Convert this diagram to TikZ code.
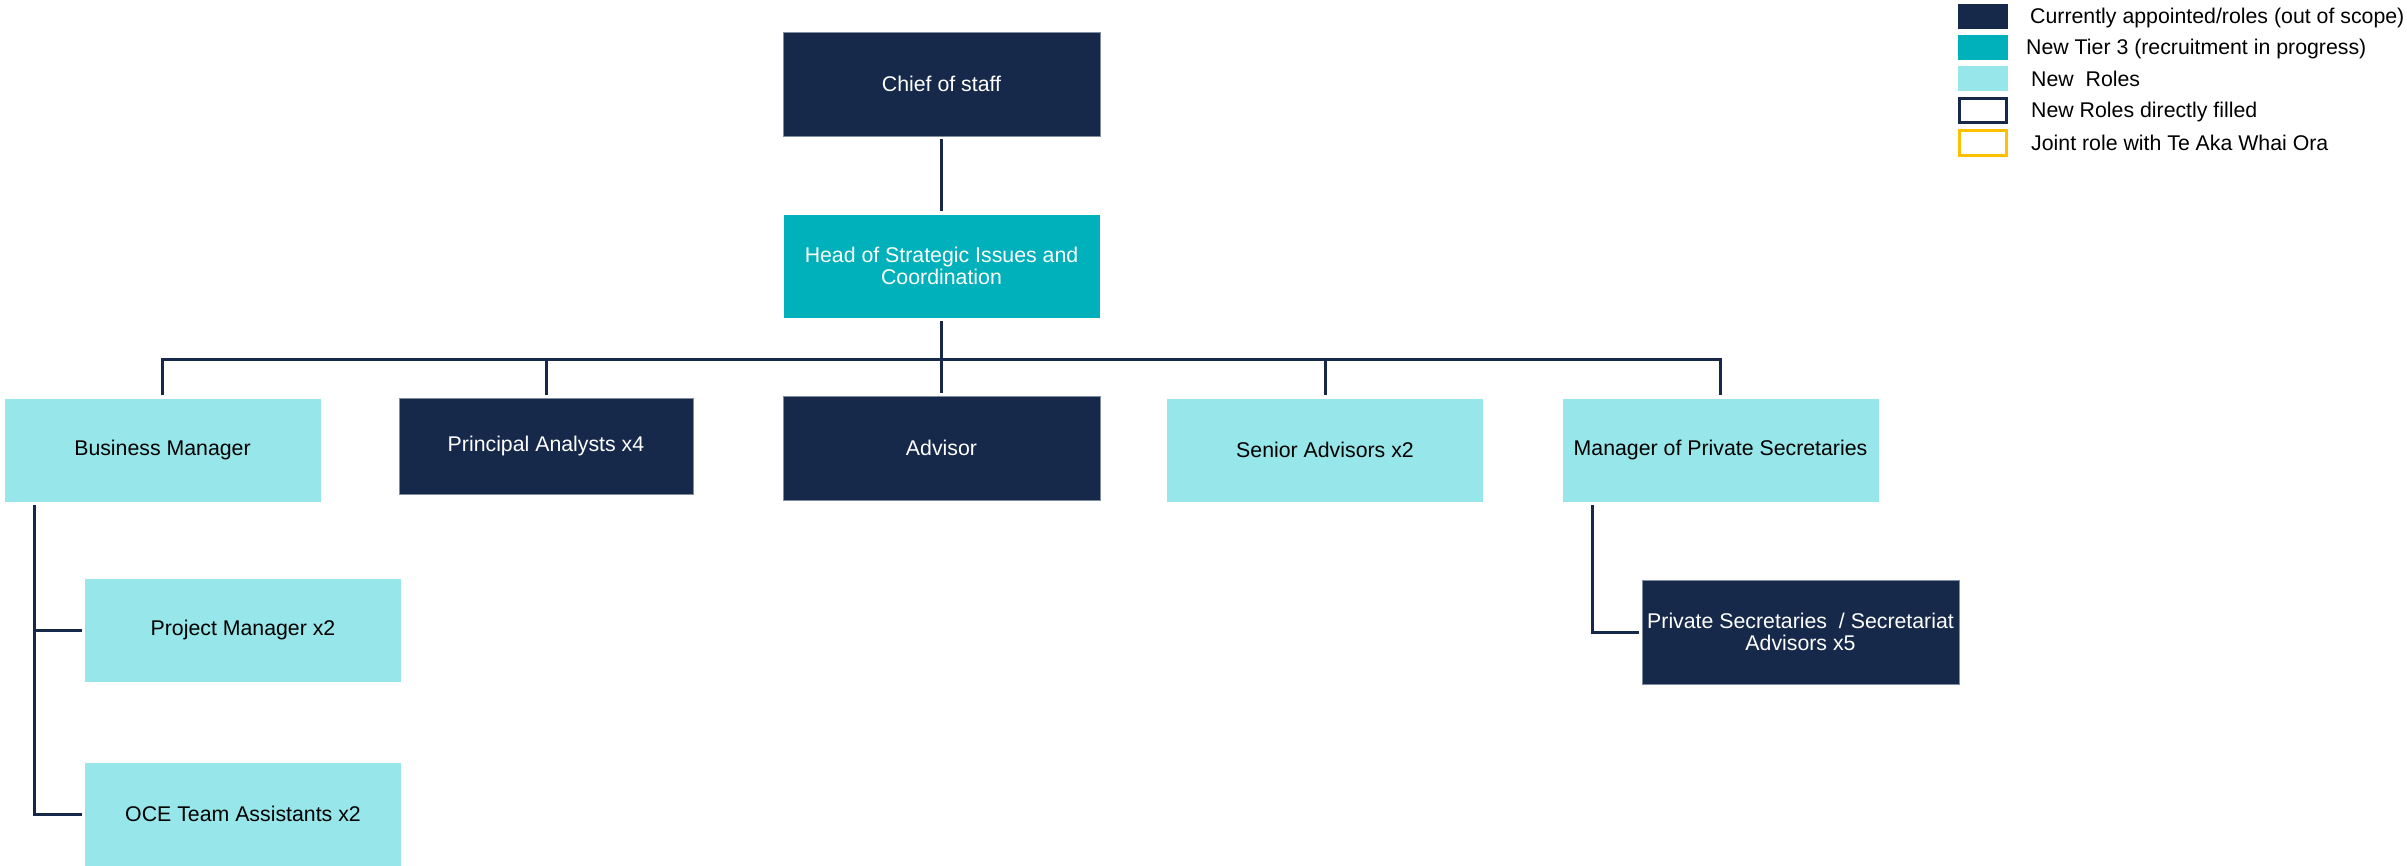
\documentclass[tikz,border=0pt]{standalone}
\usepackage{fontspec}
\setmainfont{Liberation Sans}
\definecolor{navy}{HTML}{16294A}
\definecolor{navyedge}{HTML}{7F8DA3}
\definecolor{tealc}{HTML}{00B0BA}
\definecolor{lightc}{HTML}{97E6E9}
\definecolor{yellowc}{HTML}{FFC000}
\tikzset{
  box/.style={rectangle, inner sep=2pt, outer sep=0pt, align=center,
    minimum width=317pt, minimum height=104pt,
    font=\fontsize{21.3}{22.5}\selectfont},
  darkbox/.style={box, fill=navy, draw=navyedge, line width=0.8pt, text=white},
  tealbox/.style={box, fill=tealc, draw=white, line width=0.8pt, text=white},
  lightbox/.style={box, fill=lightc, draw=white, line width=0.8pt, text=black},
  link/.style={draw=navy, line width=3pt, line join=miter},
  legsq/.style={rectangle, inner sep=0pt, outer sep=0pt, minimum width=50pt, minimum height=25pt},
  legtxt/.style={anchor=base west, inner sep=0pt, font=\fontsize{21.3}{22.5}\selectfont, text=black}
}
\begin{document}
\begin{tikzpicture}[x=1pt,y=-1pt]
\useasboundingbox[fill=white] (0,0) rectangle (2407,865);

% top
\node[darkbox] (chief) at (941.5,84) {Chief of staff};
\node[tealbox] (head) at (941.5,266) {Head of Strategic Issues and\\Coordination};

% row 2
\node[lightbox] (biz) at (162.5,450) {Business Manager};
\node[darkbox, minimum width=294pt, minimum height=96pt] (pa) at (546,446) {Principal Analysts x4};
\node[darkbox] (adv) at (941.5,448) {Advisor};
\node[lightbox] (sa) at (1325,450) {Senior Advisors x2};
\node[lightbox] (mps) at (1720.5,450) {Manager of Private Secretaries};

% row 3
\node[lightbox] (pm) at (243,630) {Project Manager x2};
\node[lightbox] (oce) at (243,814) {OCE Team Assistants x2};
\node[darkbox] (ps) at (1800.5,632) {Private Secretaries\ \ / Secretariat\\Advisors x5};

% connectors
\coordinate (bar) at (941.5,359);
\draw[link, shorten <=3pt, shorten >=3pt] (chief.south) -- (head.south |- head.north);
\draw[link] ([yshift=-3pt]head.south) -- (bar);
\draw[link] ([yshift=3pt]biz.north) -- (biz.north |- bar) -- (mps.north |- bar) -- ([yshift=3pt]mps.north);
\draw[link] (pa.north |- bar) -- ([yshift=3pt]pa.north);
\draw[link] (adv.north |- bar) -- ([yshift=3pt]adv.north);
\draw[link] (sa.north |- bar) -- ([yshift=3pt]sa.north);
\draw[link] ([xshift=30pt,yshift=-3pt]biz.south west) |- ([xshift=-3pt]pm.west);
\draw[link] ([xshift=30pt,yshift=-3pt]biz.south west) |- ([xshift=-3pt]oce.west);
\draw[link] ([xshift=30pt,yshift=-3pt]mps.south west) |- ([xshift=-3pt]ps.west);

% legend
\node[legsq, fill=navy] (l1) at (1983,16.5) {};
\node[legsq, fill=tealc] (l2) at (1983,47.5) {};
\node[legsq, fill=lightc] (l3) at (1983,78.5) {};
\node[legsq, draw=navy, line width=3pt, minimum width=47pt, minimum height=24pt] (l4) at (1983,110.5) {};
\node[legsq, draw=yellowc, line width=3pt, minimum width=47pt, minimum height=25pt] (l5) at (1983,143) {};
\node[legtxt] (t1) at (2030,23) {Currently appointed/roles (out of scope)};
\node[legtxt] (t2) at (2026,54) {New Tier 3 (recruitment in progress)};
\node[legtxt] (t3) at (2031,86) {New\ \ Roles};
\node[legtxt] (t4) at (2031,117) {New Roles directly filled};
\node[legtxt] (t5) at (2031,150) {Joint role with Te Aka Whai Ora};
\end{tikzpicture}
\end{document}
